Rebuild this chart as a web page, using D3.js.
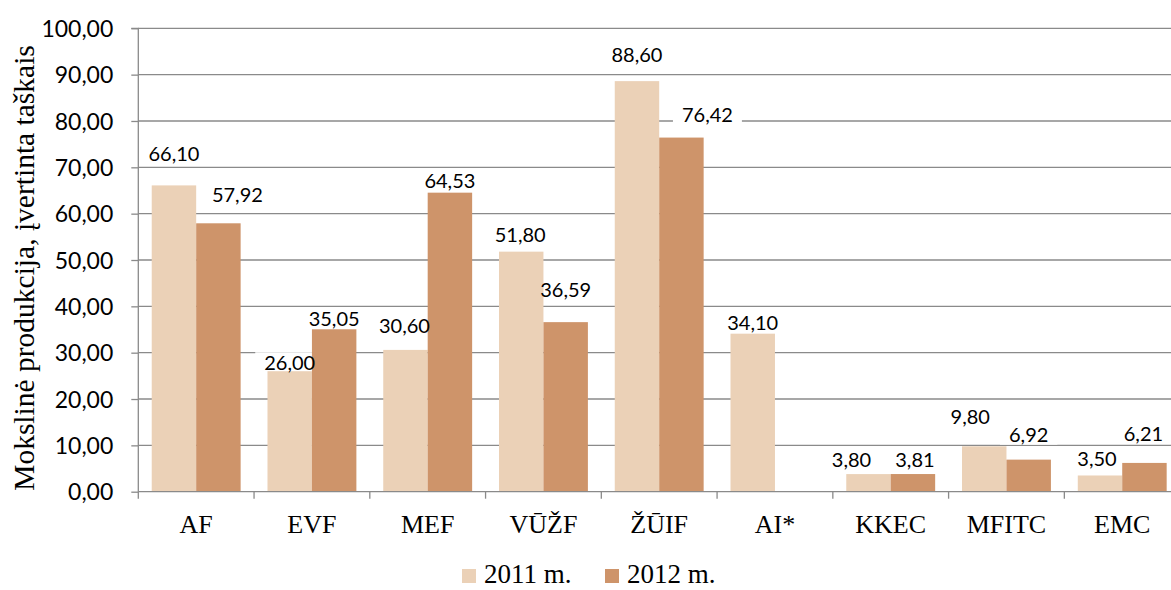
<!DOCTYPE html>
<html>
<head>
<meta charset="utf-8">
<script src="https://cdn.jsdelivr.net/npm/d3@7/dist/d3.min.js"></script>
<style>
  html, body { margin: 0; padding: 0; background: #fff; }
  svg { display: block; }
</style>
</head>
<body>
<svg id="chart" width="1171" height="590"></svg>
<script>
// ---- data ----
const categories = ["AF", "EVF", "MEF", "VŪŽF", "ŽŪIF", "AI*", "KKEC", "MFITC", "EMC"];
const seriesNames = ["2011 m.", "2012 m."];
const values2011 = [66.10, 26.00, 30.60, 51.80, 88.60, 34.10, 3.80, 9.80, 3.50];
const values2012 = [57.92, 35.05, 64.53, 36.59, 76.42, null, 3.81, 6.92, 6.21];
const yTickValues = [0, 10, 20, 30, 40, 50, 60, 70, 80, 90, 100];
const yAxisTitle = "Mokslinė produkcija, įvertinta taškais";

// ---- layout / style (hand-placed label nudges as in the original, px) ----
const labelNudge2011 = [[0, -32], [0, -8], [-1, -24], [-1, -17], [0, -26], [0, -11], [-17, -14], [-14, -29], [-3, -17]];
const labelNudge2012 = [[19, -28], [0, -10], [0, -12], [0, -32], [26, -23], [0, 0], [2, -14], [0, -25], [-1, -29]];
const colors = ["#EBD1B7", "#CE946A"];
const gridColor = "#8a8a8a";

const svg = d3.select("#chart");
const plot = { left: 138.3, right: 1180.1, top: 28.3, bottom: 491.7 };

const x0 = d3.scaleBand().domain(categories).range([plot.left, plot.right]).padding(0);
const bw = x0.bandwidth();
const x1 = d3.scaleBand().domain(seriesNames).range([bw * 0.116, bw * (1 - 0.116)]).padding(0);
const y = d3.scaleLinear().domain([0, 100]).range([plot.bottom, plot.top]);
const fmt = v => d3.format(".2f")(v).replace(".", ",");

// gridlines
svg.append("g").selectAll("line").data(yTickValues.filter(d => d > 0)).join("line")
  .attr("x1", plot.left).attr("x2", plot.right)
  .attr("y1", d => y(d)).attr("y2", d => y(d))
  .attr("stroke", gridColor).attr("stroke-width", 1.3);

// y axis
const yAxis = d3.axisLeft(y).tickValues(yTickValues).tickSize(7).tickPadding(18).tickFormat(fmt);
const gy = svg.append("g").attr("transform", `translate(${plot.left},0)`).call(yAxis);
gy.select(".domain").attr("stroke", gridColor).attr("stroke-width", 1.3).attr("d", `M-7,${plot.top}H0V${plot.bottom}`);
gy.selectAll(".tick line").attr("stroke", gridColor).attr("stroke-width", 1.3);
gy.selectAll(".tick text")
  .attr("font-family", "Lato, 'Open Sans', sans-serif").attr("font-size", 23)
  .attr("fill", "#000").attr("dy", "0.36em");

const series = [values2011, values2012];
const labelFs = 20;

// white label backgrounds (under bars, over gridlines)
const boxLayer = svg.append("g");
const barLayer = svg.append("g");
const textLayer = svg.append("g");

series.forEach((vals, si) => {
  barLayer.selectAll(null).data(categories.map((c, i) => ({ c, v: vals[i] })).filter(d => d.v != null)).join("rect")
    .attr("x", d => x0(d.c) + x1(seriesNames[si]))
    .attr("width", x1.bandwidth())
    .attr("y", d => y(d.v))
    .attr("height", d => y(0) - y(d.v))
    .attr("fill", colors[si]);

  const nudge = si === 0 ? labelNudge2011 : labelNudge2012;
  categories.forEach((c, i) => {
    const v = vals[i];
    if (v == null) return;
    const cx = x0(c) + x1(seriesNames[si]) + x1.bandwidth() / 2 + nudge[i][0];
    const cy = y(v) + nudge[i][1];
    const t = textLayer.append("text")
      .attr("x", cx).attr("y", cy + 0.36 * labelFs)
      .attr("text-anchor", "middle")
      .attr("font-family", "Lato, 'Open Sans', sans-serif").attr("font-size", labelFs)
      .attr("fill", "#000").text(fmt(v));
    const w = t.node().getComputedTextLength();
    boxLayer.append("rect").attr("fill", "#fff")
      .attr("x", cx - w / 2 - 9).attr("width", w + 18)
      .attr("y", cy - 11).attr("height", 21);
  });
});

// x axis
const xAxis = d3.axisBottom(x0).tickSize(0).tickPadding(0).tickFormat("");
const gx = svg.append("g").attr("transform", `translate(0,${plot.bottom})`).call(xAxis);
gx.select(".domain").attr("stroke", gridColor).attr("stroke-width", 1.3).attr("d", `M${plot.left},0H${plot.right}`);
gx.selectAll(".tick").remove();
const boundaries = categories.map(c => x0(c)).concat([plot.right]);
gx.selectAll("line.bt").data(boundaries).join("line").attr("class", "bt")
  .attr("x1", d => d).attr("x2", d => d).attr("y1", 0).attr("y2", 7)
  .attr("stroke", gridColor).attr("stroke-width", 1.3);
gx.selectAll("text.cat").data(categories).join("text").attr("class", "cat")
  .attr("x", d => x0(d) + bw / 2).attr("y", 533 - plot.bottom)
  .attr("text-anchor", "middle")
  .attr("font-family", "'Liberation Serif', 'Times New Roman', serif").attr("font-size", 26)
  .attr("fill", "#000").text(d => d);

// y axis title
svg.append("text")
  .attr("transform", `translate(34,268) rotate(-90)`)
  .attr("text-anchor", "middle")
  .attr("font-family", "'Liberation Serif', 'Times New Roman', serif").attr("font-size", 29.5)
  .attr("fill", "#000").text(yAxisTitle);

// legend
const legendPos = [462, 605];
const lgd = svg.append("g");
seriesNames.forEach((s, i) => {
  lgd.append("rect").attr("x", legendPos[i]).attr("y", 569).attr("width", 14).attr("height", 14).attr("fill", colors[i]);
  lgd.append("text").attr("x", legendPos[i] + 22).attr("y", 583)
    .attr("font-family", "'Liberation Serif', 'Times New Roman', serif").attr("font-size", 27)
    .attr("fill", "#000").text(s);
});
</script>
</body>
</html>
